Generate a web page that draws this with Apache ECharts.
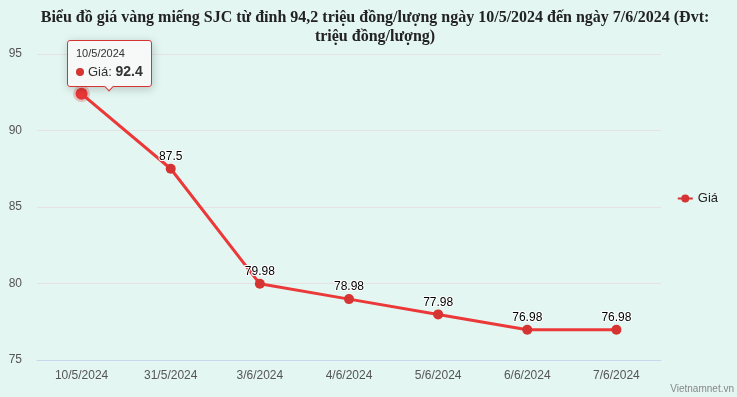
<!DOCTYPE html>
<html>
<head>
<meta charset="utf-8">
<script src="https://cdn.jsdelivr.net/npm/echarts@6/dist/echarts.min.js"></script>
<style>
html,body{margin:0;padding:0;background:#e3f6f1;}
#main{width:737px;height:397px;}
</style>
</head>
<body>
<div id="main"></div>
<script>
var categories=['10/5/2024','31/5/2024','3/6/2024','4/6/2024','5/6/2024','6/6/2024','7/6/2024'];
var priceValues=[92.4,87.5,79.98,78.98,77.98,76.98,76.98];
var yTicks=[75,80,85,90,95];
var lineColor='#d63333';

var chart=echarts.init(document.getElementById('main'));
var option={
    backgroundColor:'#e3f6f1',
    animation:false,
    title:{
        text:'Biểu đồ giá vàng miếng SJC từ đỉnh 94,2 triệu đồng/lượng ngày 10/5/2024 đến ngày 7/6/2024 (Đvt:\ntriệu đồng/lượng)',
        left:370,
        top:3,
        textAlign:'center',
        textStyle:{fontFamily:'Liberation Serif',fontSize:16,fontWeight:'bold',color:'#222',lineHeight:19}
    },
    legend:{
        right:14,
        top:'middle',
        orient:'vertical',
        itemWidth:15,
        itemHeight:10,
        itemGap:6,
        textStyle:{fontFamily:'Liberation Sans',fontSize:13,color:'#222'},
        data:['Giá']
    },
    tooltip:{
        trigger:'item',
        position:'top',
        alwaysShowContent:true,
        backgroundColor:'rgba(248,248,248,0.95)',
        borderColor:lineColor,
        borderWidth:1,
        padding:[4,8,4,8],
        extraCssText:'margin-left:28px;margin-top:8px;border-radius:3px;',
        formatter:function(p){
            return '<div style="font-size:11px;color:#333;line-height:16px;font-family:Liberation Sans">'+p.name+'</div>'+
                '<div style="font-size:13px;color:#333;line-height:20px;font-family:Liberation Sans">'+
                '<span style="display:inline-block;width:8px;height:8px;border-radius:4px;background:'+lineColor+';margin-right:4px"></span>'+
                p.seriesName+': <b style="font-size:14px">'+p.value+'</b></div>';
        }
    },
    grid:{left:37,right:76,top:54,bottom:37},
    xAxis:{
        type:'category',
        data:categories,
        boundaryGap:true,
        axisTick:{show:false},
        axisLine:{lineStyle:{color:'#ccd6eb',width:1}},
        axisLabel:{fontFamily:'Liberation Sans',fontSize:12,color:'#555',margin:10}
    },
    yAxis:{
        type:'value',
        min:yTicks[0],
        max:yTicks[yTicks.length-1],
        interval:5,
        axisLine:{show:false},
        axisTick:{show:false},
        axisLabel:{fontFamily:'Liberation Sans',fontSize:12,color:'#555',margin:15},
        splitLine:{lineStyle:{color:'#e6e2e2',width:1}}
    },
    series:[{
        name:'Giá',
        type:'line',
        data:priceValues,
        color:lineColor,
        symbol:'circle',
        symbolSize:10,
        lineStyle:{width:3,color:lineColor},
        itemStyle:{color:lineColor},
        label:{
            show:true,
            position:'top',
            distance:1,
            fontFamily:'Liberation Sans',
            fontSize:12,
            color:'#000',
            textBorderColor:'#fff',
            textBorderWidth:2
        },
        emphasis:{
            scale:1.2,
            itemStyle:{borderColor:'rgba(214,51,51,0.25)',borderWidth:5},
            label:{color:'#bbb',textBorderWidth:0}
        }
    }],
    graphic:[{
        type:'text',
        right:3,
        bottom:3,
        style:{text:'Vietnamnet.vn',fontFamily:'Liberation Sans',fontSize:10,fill:'#888'}
    }]
};
chart.setOption(option);
chart.dispatchAction({type:'highlight',seriesIndex:0,dataIndex:0});
chart.dispatchAction({type:'showTip',seriesIndex:0,dataIndex:0});
</script>
</body>
</html>
